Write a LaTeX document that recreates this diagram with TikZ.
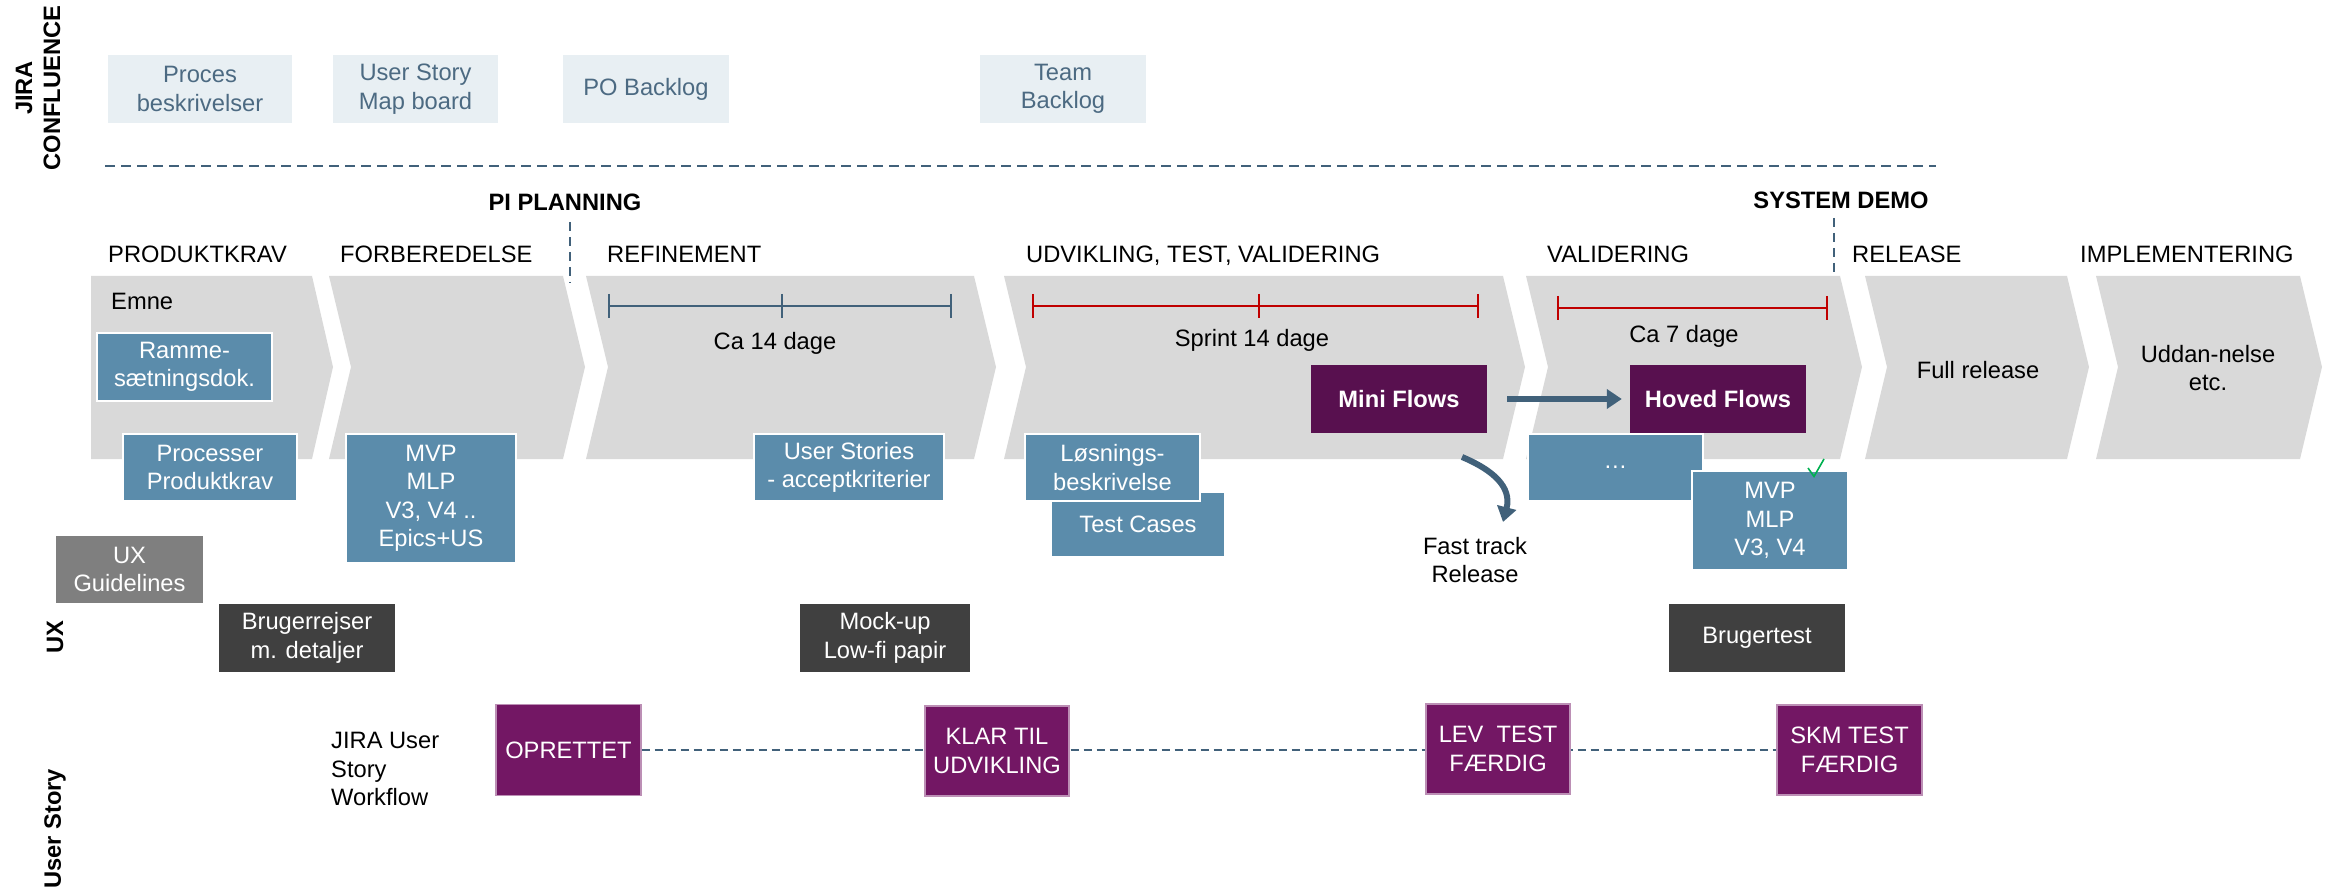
\documentclass[tikz,border=0pt]{standalone}
\usepackage{fontspec}
\setmainfont{Liberation Sans}
\usetikzlibrary{arrows.meta}

\definecolor{chev}{HTML}{D9D9D9}
\definecolor{confl}{HTML}{E8EFF3}
\definecolor{confltxt}{HTML}{4C6A82}
\definecolor{boxblue}{HTML}{5B8CAB}
\definecolor{uxgrey}{HTML}{7F7F7F}
\definecolor{uxdark}{HTML}{404040}
\definecolor{flowpurple}{HTML}{58104F}
\definecolor{wfpurple}{HTML}{731764}
\definecolor{wfedge}{HTML}{BC8FB5}
\definecolor{slate}{HTML}{41617A}
\definecolor{sprintred}{HTML}{C00000}
\definecolor{checkgreen}{HTML}{00B050}

\pgfdeclarelayer{background}
\pgfsetlayers{background,main}

\begin{document}
\begin{tikzpicture}[x=1pt,y=-1pt,
  txt/.style={font=\fontsize{23.7}{28.5}\selectfont, inner sep=0pt, align=center},
  wh/.style 2 args={minimum width=#1pt, minimum height=#2pt},
  lane/.style={txt, font=\fontsize{23.7}{28}\selectfont\bfseries, rotate=90},
  phase/.style={txt, anchor=base west},
  milestone/.style={txt, font=\fontsize{23.7}{28.5}\selectfont\bfseries, anchor=base},
  chevron/.style={fill=chev},
  conflbox/.style={txt, fill=confl, text=confltxt},
  bluebox/.style={txt, fill=boxblue, draw=white, line width=1.5pt, text=white},
  greybox/.style={txt, fill=uxgrey, text=white},
  darkbox/.style={txt, fill=uxdark, text=white},
  flowbox/.style={txt, font=\fontsize{23.7}{28.5}\selectfont\bfseries, fill=flowpurple, text=white},
  wfbox/.style={txt, fill=wfpurple, draw=wfedge, line width=1.2pt, text=white},
  sepline/.style={draw=slate, line width=2pt, dash pattern=on 10pt off 6pt},
  milestoneline/.style={draw=slate, line width=1.8pt, dash pattern=on 9pt off 6pt},
  wfline/.style={draw=slate, line width=2pt, dash pattern=on 8pt off 5pt},
  span/.style={line width=2pt},
  fatarrow/.style={draw=slate, line width=6pt, -{Triangle[width=19pt,length=15pt]}}
]
\useasboundingbox (0,0) rectangle (2333,890);

% ---- lane titles -------------------------------------------------------
\node[lane] (laneconf) at (38,88) {JIRA\\CONFLUENCE};
\node[lane] (laneux) at (55,637) {UX};
\node[lane] (laneus) at (55,829) {User Story};

% ---- tool boxes ----------------------------------------------------------
\node[conflbox, wh={184}{68}] (proces) at (200,89) {Proces\\beskrivelser};
\node[conflbox, wh={165}{68}] (usmap) at (415.5,89) {User Story\\Map board};
\node[conflbox, wh={166}{68}] (pobl) at (646,89) {PO Backlog};
\node[conflbox, wh={166}{68}] (teambl) at (1063,89) {Team\\Backlog};

\draw[sepline] (105,166) -- (1936,166);

% ---- milestones ----------------------------------------------------------
\node[milestone] (pi) at (565,210.5) {PI PLANNING};
\node[milestone] (demo) at (1841,208.5) {SYSTEM DEMO};
\draw[milestoneline] (570,222) -- (570,283);
\draw[milestoneline] (1834,218) -- (1834,278);

% ---- phase headings ------------------------------------------------------
\node[phase] (h1) at (108,262.5) {PRODUKTKRAV};
\node[phase] (h2) at (340,262.5) {FORBEREDELSE};
\node[phase] (h3) at (607,262.5) {REFINEMENT};
\node[phase] (h4) at (1026,262.5) {UDVIKLING, TEST, VALIDERING};
\node[phase] (h5) at (1547,262.5) {VALIDERING};
\node[phase] (h6) at (1852,262.5) {RELEASE};
\node[phase] (h7) at (2080,262.5) {IMPLEMENTERING};

% ---- chevrons --------------------------------------------------------------
\fill[chevron] (91,276) -- (312,276) -- (333,367) -- (312,459) -- (91,459) -- cycle;
\foreach \l/\r in {329/563, 586/974, 1004/1503, 1526/1840, 1865/2067, 2096/2300}
  \fill[chevron] (\l,276) -- (\r,276) -- (\r+22,367) -- (\r,459) -- (\l,459) -- (\l+22,367) -- cycle;

% ---- time spans ------------------------------------------------------------
\draw[span, slate] (609,306) -- (951,306);
\foreach \x in {609,782,951} \draw[span, slate] (\x,294) -- (\x,318);
\node[txt, anchor=base] (ca14) at (775,349) {Ca 14 dage};

\draw[span, sprintred] (1033,306) -- (1478,306);
\foreach \x in {1033,1259,1478} \draw[span, sprintred] (\x,294) -- (\x,318);
\node[txt, anchor=base] (sprint) at (1252,346) {Sprint 14 dage};

\draw[span, sprintred] (1558,308) -- (1827,308);
\foreach \x in {1558,1827} \draw[span, sprintred] (\x,296) -- (\x,320);
\node[txt, anchor=base] (ca7) at (1684,342) {Ca 7 dage};

% ---- phase contents --------------------------------------------------------
\node[txt, anchor=base west] (emne) at (111,310) {Emne};
\node[bluebox, wh={175}{68}] (ramme) at (184.5,367) {Ramme-\\sætningsdok.};
\node[bluebox, wh={174}{67}] (proc) at (210,467.5) {Processer\\Produktkrav};
\node[bluebox, wh={170}{129}] (mvpa) at (431,498.5) {MVP\\MLP\\V3, V4 ..\\Epics+US};
\node[bluebox, wh={190}{67}] (ustories) at (849,467.5) {User Stories\\- acceptkriterier};
\node[bluebox, wh={174}{65}] (testc) at (1138,524.5) {Test Cases};
\node[bluebox, wh={175}{67}] (losn) at (1112.5,467.5) {Løsnings-\\beskrivelse};

\node[flowbox, wh={176}{68}] (mini) at (1399,399) {Mini Flows};
\node[flowbox, wh={176}{68}] (hoved) at (1718,399) {Hoved Flows};
\draw[fatarrow, shorten <=20pt, shorten >=8pt] (mini.east) -- (hoved.west);

\node[bluebox, wh={175}{67}] (dots) at (1615.5,467.5) {…};
\node[bluebox, wh={156}{99}] (mvpb) at (1770,520.5) {MVP\\MLP\\V3, V4};
\draw[checkgreen, line width=1.6pt] (1808,468) -- (1814,476.5) -- (1824,459);

\node[txt, anchor=north] (fast) at (1475,537) {Fast track\\Release};
\coordinate (ftstart) at (1462,457);
\coordinate (ftend) at (1503,522);
\draw[fatarrow] (ftstart) .. controls (1493,470) and (1512,487) .. (ftend);

\node[txt] (full) at (1978,370) {Full release};
\node[txt] (uddan) at (2208,368) {Uddan-nelse\\etc.};

% ---- UX lane ---------------------------------------------------------------
\node[greybox, wh={147}{67}] (uxg) at (129.5,569.5) {UX\\Guidelines};
\node[darkbox, wh={176}{68}] (brj) at (307,638) {Brugerrejser\\m. detaljer};
\node[darkbox, wh={170}{68}] (mock) at (885,638) {Mock-up\\Low-fi papir};
\node[darkbox, wh={176}{68}] (btest) at (1757,638) {Brugertest};

% ---- user story workflow ---------------------------------------------------
\node[txt, anchor=north west, align=left] (wflabel) at (331,732) {JIRA User\\Story\\Workflow};
\node[wfbox, wh={145}{91}] (opr) at (568.5,750) {OPRETTET};
\node[wfbox, wh={144}{90}] (klar) at (997,751) {KLAR TIL\\UDVIKLING};
\node[wfbox, wh={144}{90}] (lev) at (1498,749) {LEV\ \ TEST\\FÆRDIG};
\node[wfbox, wh={145}{90}] (skm) at (1849.5,750) {SKM TEST\\FÆRDIG};
\begin{pgfonlayer}{background}
  \draw[wfline] (opr.east) -- (skm.west);
\end{pgfonlayer}
\end{tikzpicture}
\end{document}
